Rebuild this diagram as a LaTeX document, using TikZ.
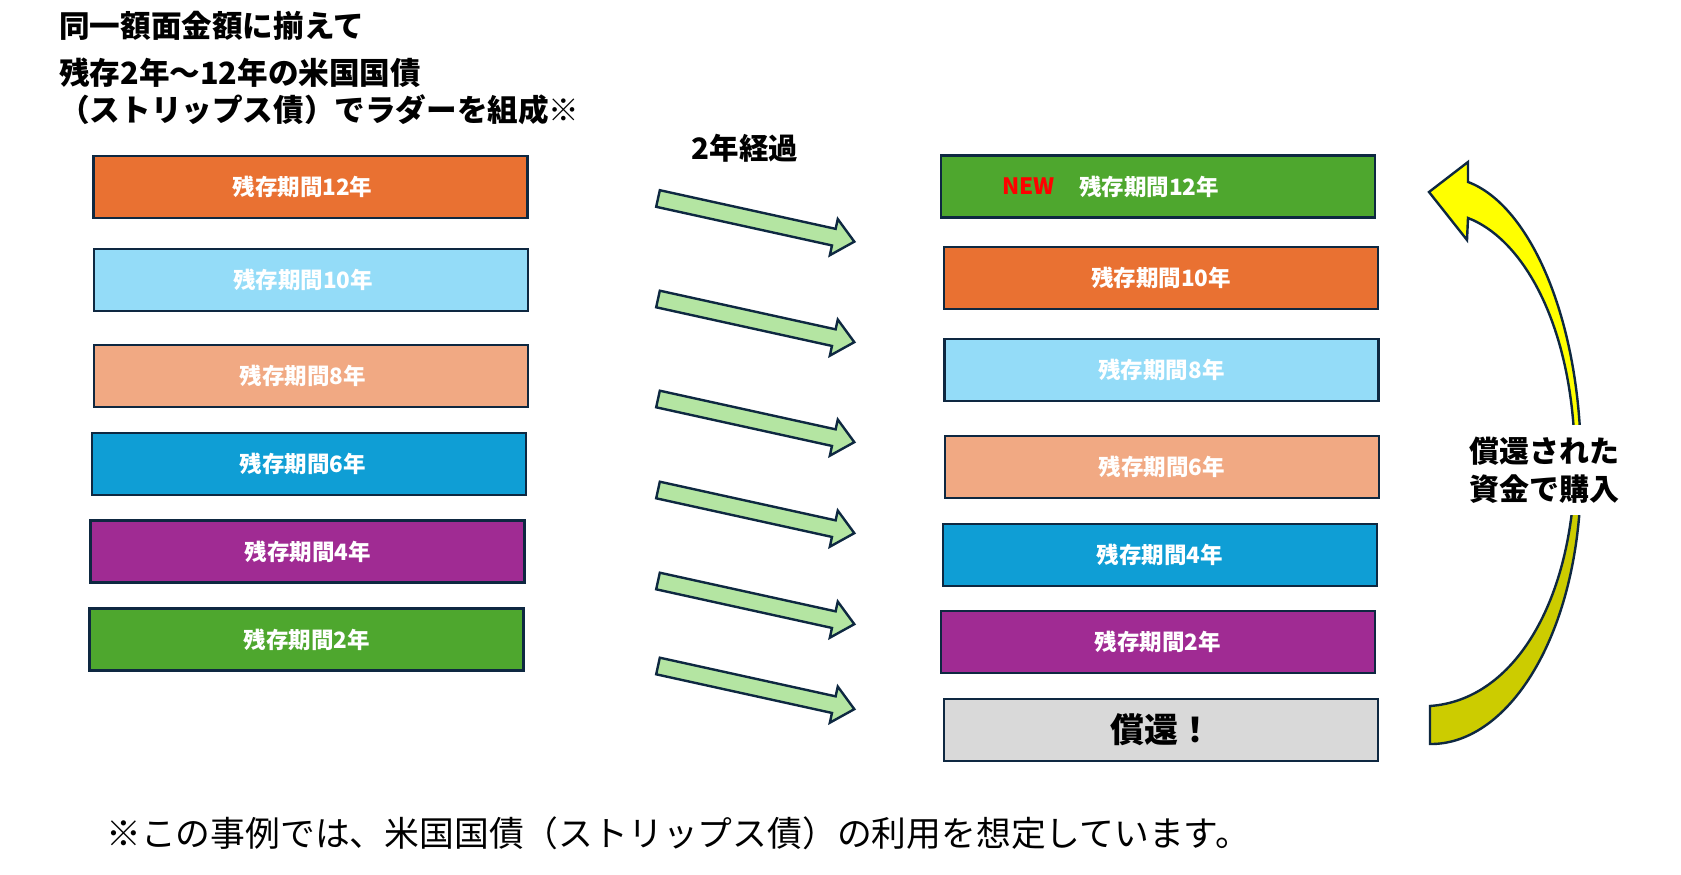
\documentclass[tikz,border=0pt]{standalone}
\usepackage{fontspec}
\setmainfont{Noto Sans CJK JP}
\definecolor{bord}{HTML}{0E2841}
\definecolor{corange}{HTML}{E97132}
\definecolor{clblue}{HTML}{94DCF8}
\definecolor{csalmon}{HTML}{F1A983}
\definecolor{cblue}{HTML}{0F9ED5}
\definecolor{cpurple}{HTML}{A02B93}
\definecolor{cgreen}{HTML}{4EA72E}
\definecolor{cgray}{HTML}{D9D9D9}
\definecolor{garrowfill}{HTML}{B4E5A2}
\definecolor{ybright}{HTML}{FFFF00}
\definecolor{yolive}{HTML}{CCCC00}
\begin{document}
\begin{tikzpicture}[x=1pt,y=-1pt,
  box/.style={draw=bord, line width=2.8pt, minimum width=434pt, minimum height=62pt,
    inner sep=0pt, text=white, font=\fontsize{22.5}{26}\selectfont\bfseries},
  boxtxt/.style={inner sep=0pt, anchor=west, font=\fontsize{22.5}{26}\selectfont\bfseries},
  title/.style={inner sep=0pt, anchor=west, font=\fontsize{30.6}{36}\selectfont\bfseries},
  garrow/.style={draw=bord, line width=2.4pt, fill=garrowfill, line join=miter},
  yarrow/.style={draw=bord, line width=2.4pt, line join=miter}]
\useasboundingbox (0,0) rectangle (1681,875);
\fill[white] (0,0) rectangle (1681,875);

% titles
\node[title] (t1) at (59,26) {同一額面金額に揃えて};
\node[title] (t2) at (59,73) {残存2年～12年の米国国債};
\node[title] (t3) at (59,110) {（ストリップス債）でラダーを組成※};
\node[inner sep=0pt, font=\fontsize{29.5}{34}\selectfont\bfseries] (elapsed) at (745,148) {2年経過};

% left ladder
\node[box, fill=corange] (L1) at (310.5,187) {残存期間12年\hspace*{16pt}};
\node[box, fill=clblue]  (L2) at (311,280) {残存期間10年\hspace*{16pt}};
\node[box, fill=csalmon] (L3) at (311,376) {残存期間8年\hspace*{16pt}};
\node[box, fill=cblue]   (L4) at (309,464) {残存期間6年\hspace*{12pt}};
\node[box, fill=cpurple] (L5) at (307.7,551.5) {残存期間4年};
\node[box, fill=cgreen]  (L6) at (306.7,639.5) {残存期間2年};

% right ladder
\node[box, fill=cgreen]  (R1) at (1158,186.5) {};
\node[boxtxt, text=red] (new) at (1002,186.5) {NEW};
\node[boxtxt, text=white] (R1t) at (1079,186.5) {残存期間12年};
\node[box, fill=corange] (R2) at (1161,278) {残存期間10年};
\node[box, fill=clblue]  (R3) at (1161.5,370) {残存期間8年};
\node[box, fill=csalmon] (R4) at (1162,467) {残存期間6年};
\node[box, fill=cblue]   (R5) at (1160,555) {残存期間4年};
\node[box, fill=cpurple] (R6) at (1158,642) {残存期間2年};
\node[box, fill=cgray, text=black, font=\fontsize{34}{40}\selectfont\bfseries] (R7) at (1161,730) {償還！};

% green block arrows
\foreach \ty in {198.5,299,399,490,581,666} {
  \begin{scope}[shift={(658,\ty)}, rotate=-12.4]
    \draw[garrow] (0,-8.5) -- (180,-8.5) -- (180,-18.5) -- (201,0) -- (180,18.5) -- (180,8.5) -- (0,8.5) -- cycle;
  \end{scope}
}

% curved arrow (upper part)
\draw[yarrow, fill=ybright] (1429,192) -- (1468,162) -- (1468,182)
  .. controls (1530,205) and (1581,320) .. (1581,465) -- (1575,465)
  .. controls (1575,330) and (1525,240) .. (1468,218) -- (1467,240) -- cycle;
% curved arrow (lower part)
\draw[yarrow, fill=yolive] (1581,465) .. controls (1583,630) and (1510,745) .. (1430,744)
  -- (1430,706) .. controls (1515,700) and (1573,600) .. (1575,465) -- cycle;

\node[fill=white, inner xsep=4pt, minimum height=90pt, align=center,
  font=\fontsize{30}{38}\selectfont\bfseries] (lbl) at (1544,470) {償還された\\資金で購入};

% note
\node[inner sep=0pt, anchor=west, font=\fontsize{34.8}{40}\selectfont] (note) at (106,833)
  {※この事例では、米国国債（ストリップス債）の利用を想定しています。};
\end{tikzpicture}
\end{document}
